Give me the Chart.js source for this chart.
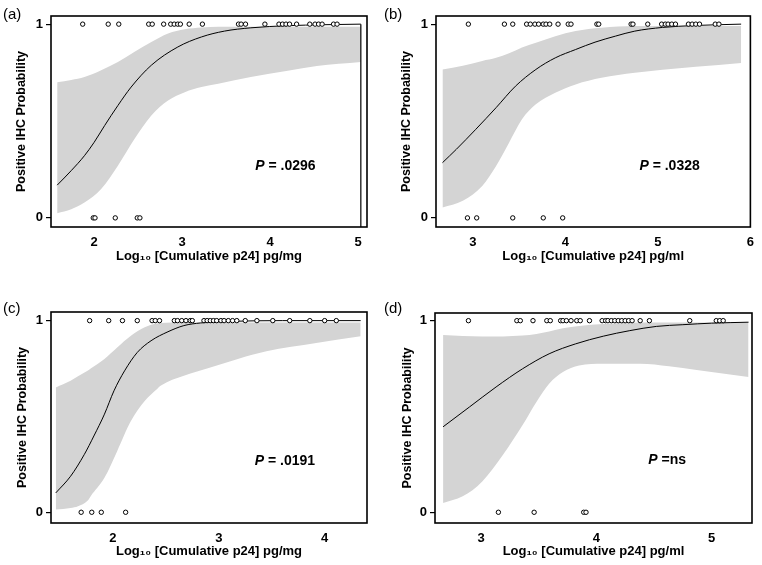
<!DOCTYPE html>
<html>
<head>
<meta charset="utf-8">
<title>Positive IHC probability vs cumulative p24</title>
<script src="https://cdn.jsdelivr.net/npm/chart.js@4.4.0/dist/chart.umd.min.js"></script>
<style>
  body { margin: 0; background: #fff; }
  #wrap { position: relative; width: 762px; height: 565px; }
  #wrap canvas { position: absolute; }
</style>
</head>
<body>
<div id="wrap">
  <canvas id="chartA" width="381" height="270" style="left:0px;top:0px"></canvas>
  <canvas id="chartB" width="381" height="270" style="left:381px;top:0px"></canvas>
  <canvas id="chartC" width="381" height="283" style="left:0px;top:282px"></canvas>
  <canvas id="chartD" width="381" height="283" style="left:381px;top:282px"></canvas>
</div>
<script>
// shared
const yTicks = [0, 1];
const yTitle = 'Positive IHC Probability';

// (a) Log10 cumulative p24, pg/mg
const aTicks = [2, 3, 4, 5];
const aHitX = [1.87, 2.16, 2.28, 2.62, 2.66, 2.79, 2.87, 2.91, 2.95, 2.98, 3.08, 3.23, 3.64, 3.67, 3.72,
               3.94, 4.10, 4.14, 4.18, 4.22, 4.30, 4.45, 4.51, 4.55, 4.59, 4.72, 4.76];
const aMissX = [1.99, 2.01, 2.24, 2.49, 2.52];
const aCurveX = [1.58, 1.74, 1.89, 2.0, 2.12, 2.27, 2.42, 2.65, 2.95, 3.22, 3.48, 3.78, 4.2, 4.6, 5.03];
const aCurveY = [0.169, 0.244, 0.321, 0.39, 0.477, 0.58, 0.675, 0.788, 0.882, 0.934, 0.964, 0.981, 0.992, 0.997, 1.0];
const aDropX = [5.03, 5.03];
const aDropY = [1.0, -0.047];
const aBandX = [1.58, 1.74, 1.89, 2.08, 2.27, 2.46, 2.65, 2.84, 3.03, 3.22, 3.41, 3.78, 4.2, 4.53, 5.03];
const aUpper = [0.70, 0.712, 0.727, 0.762, 0.805, 0.857, 0.908, 0.952, 0.974, 0.983, 0.986, 0.987, 0.987, 0.987, 0.987];
const aLower = [0.024, 0.045, 0.079, 0.149, 0.269, 0.408, 0.528, 0.606, 0.649, 0.675, 0.692, 0.727, 0.76, 0.784, 0.805];

// (b) Log10 cumulative p24, pg/ml
const bTicks = [3, 4, 5, 6];
const bHitX = [2.95, 3.34, 3.43, 3.58, 3.62, 3.67, 3.71, 3.76, 3.79, 3.83, 3.92, 4.03, 4.06, 4.34, 4.36,
               4.71, 4.73, 4.89, 5.04, 5.08, 5.11, 5.15, 5.19, 5.33, 5.37, 5.41, 5.45, 5.62, 5.66];
const bMissX = [2.94, 3.04, 3.43, 3.76, 3.97];
const bCurveX = [2.67, 2.82, 3.03, 3.25, 3.46, 3.68, 3.89, 4.11, 4.32, 4.54, 4.75, 5.05, 5.4, 5.9];
const bCurveY = [0.285, 0.354, 0.457, 0.569, 0.68, 0.766, 0.826, 0.869, 0.907, 0.938, 0.964, 0.983, 0.993, 1.0];
const bBandX = [2.67, 2.89, 3.10, 3.25, 3.39, 3.53, 3.68, 3.89, 4.11, 4.39, 4.75, 5.05, 5.41, 5.9];
const bUpper = [0.766, 0.785, 0.81, 0.826, 0.85, 0.88, 0.904, 0.938, 0.964, 0.981, 0.99, 0.99, 0.99, 0.99];
const bLower = [0.053, 0.088, 0.165, 0.268, 0.388, 0.509, 0.586, 0.646, 0.689, 0.723, 0.749, 0.765, 0.78, 0.80];

// (c) Log10 cumulative p24, pg/mg
const cTicks = [2, 3, 4];
const cHitX = [1.78, 1.96, 2.09, 2.23, 2.37, 2.40, 2.44, 2.58, 2.61, 2.65, 2.69, 2.73, 2.75, 2.86, 2.89,
               2.92, 2.95, 2.98, 3.02, 3.05, 3.09, 3.13, 3.17, 3.25, 3.36, 3.51, 3.67, 3.86, 4.0, 4.11];
const cMissX = [1.70, 1.80, 1.89, 2.12];
const cCurveX = [1.46, 1.60, 1.73, 1.82, 1.92, 2.01, 2.11, 2.23, 2.36, 2.52, 2.67, 2.83, 3.1, 3.6, 4.34];
const cCurveY = [0.101, 0.188, 0.302, 0.398, 0.512, 0.634, 0.738, 0.834, 0.895, 0.942, 0.974, 0.988, 0.996, 1.0, 1.0];
const cBandX = [1.46, 1.60, 1.67, 1.76, 1.79, 1.92, 2.04, 2.17, 2.30, 2.42, 2.45, 2.67, 2.92, 3.18, 3.45, 3.92, 4.34];
const cUpper = [0.651, 0.686, 0.71, 0.738, 0.75, 0.80, 0.86, 0.921, 0.965, 0.986, 0.988, 0.99, 0.99, 0.99, 0.99, 0.99, 0.99];
const cLower = [0.014, 0.022, 0.031, 0.06, 0.084, 0.18, 0.319, 0.476, 0.581, 0.645, 0.66, 0.712, 0.755, 0.80, 0.84, 0.883, 0.918];

// (d) Log10 cumulative p24, pg/ml
const dTicks = [3, 4, 5];
const dHitX = [2.89, 3.31, 3.34, 3.45, 3.57, 3.60, 3.69, 3.71, 3.74, 3.78, 3.83, 3.86, 3.94, 4.05, 4.08,
               4.10, 4.13, 4.16, 4.19, 4.22, 4.25, 4.28, 4.31, 4.38, 4.46, 4.81, 5.04, 5.07, 5.10];
const dMissX = [3.15, 3.46, 3.89, 3.91];
const dCurveX = [2.67, 2.90, 3.13, 3.36, 3.59, 3.82, 4.06, 4.29, 4.52, 4.75, 5.0, 5.32];
const dCurveY = [0.446, 0.55, 0.654, 0.749, 0.827, 0.879, 0.919, 0.948, 0.97, 0.979, 0.987, 0.992];
const dBandX = [2.67, 2.84, 3.01, 3.19, 3.36, 3.48, 3.59, 3.71, 3.85, 4.06, 4.38, 4.63, 4.87, 5.32];
const dUpper = [0.925, 0.92, 0.918, 0.918, 0.922, 0.93, 0.943, 0.96, 0.972, 0.982, 0.99, 0.99, 0.99, 0.99];
const dLower = [0.048, 0.083, 0.161, 0.30, 0.455, 0.576, 0.671, 0.732, 0.766, 0.775, 0.775, 0.762, 0.742, 0.706];

const FONT = '"Liberation Sans", Arial, sans-serif';
const BAND = '#d4d4d4';

function zip(xs, ys) {
  return xs.map((x, i) => ({x: x, y: ys[i]}));
}

// frame round the plot, the P annotation and the (a)/(b) label
const panelDecor = {
  id: 'panelDecor',
  afterDatasetsDraw(chart, args, opts) {
    const ctx = chart.ctx;
    const area = chart.chartArea;
    ctx.save();
    ctx.strokeStyle = '#000';
    ctx.lineWidth = 1.6;
    ctx.strokeRect(area.left, area.top, area.right - area.left, area.bottom - area.top);

    const px = chart.scales.x.getPixelForValue(opts.pAt[0]);
    const py = chart.scales.y.getPixelForValue(opts.pAt[1]);
    ctx.fillStyle = '#000';
    ctx.textBaseline = 'alphabetic';
    ctx.textAlign = 'left';
    ctx.font = 'italic bold 14px ' + FONT;
    ctx.fillText('P', px, py);
    const w = ctx.measureText('P').width;
    ctx.font = 'bold 14px ' + FONT;
    ctx.fillText(opts.pText, px + w, py);

    ctx.font = '15px ' + FONT;
    ctx.fillText(opts.label, opts.labelAt[0], opts.labelAt[1]);
    ctx.restore();
  }
};

function buildPanel(id, geo, d) {
  const canvas = document.getElementById(id);
  const H = canvas.height;
  const datasets = [
    { label: 'IHC positive', data: d.hitX.map(x => ({x: x, y: 1})), showLine: false,
      pointRadius: 2.2, pointBorderWidth: 1, pointBorderColor: '#000', pointBackgroundColor: '#fff' },
    { label: 'IHC negative', data: d.missX.map(x => ({x: x, y: 0})), showLine: false,
      pointRadius: 2.2, pointBorderWidth: 1, pointBorderColor: '#000', pointBackgroundColor: '#fff' },
    { label: 'Fitted probability', data: zip(d.curveX, d.curveY), borderColor: '#000', borderWidth: 1,
      pointRadius: 0, cubicInterpolationMode: 'monotone', fill: false }
  ];
  if (d.dropX) {
    datasets.push({ label: 'edge', data: zip(d.dropX, d.dropY), borderColor: '#000', borderWidth: 1.2,
      pointRadius: 0, fill: false });
  }
  datasets.push(
    { label: 'Upper CI', data: zip(d.bandX, d.upper), borderColor: 'rgba(0,0,0,0)', pointRadius: 0,
      cubicInterpolationMode: 'monotone', fill: '+1', backgroundColor: BAND },
    { label: 'Lower CI', data: zip(d.bandX, d.lower), borderColor: 'rgba(0,0,0,0)', pointRadius: 0,
      cubicInterpolationMode: 'monotone', fill: false }
  );

  return new Chart(canvas, {
    type: 'line',
    data: { datasets: datasets },
    options: {
      responsive: false,
      animation: false,
      devicePixelRatio: 1,
      layout: { padding: { left: 0, top: geo.top, right: canvas.width - geo.right, bottom: 0 } },
      plugins: {
        legend: { display: false },
        tooltip: { enabled: false },
        panelDecor: { pAt: d.pAt, pText: d.pText, label: d.label, labelAt: geo.labelAt }
      },
      scales: {
        x: {
          type: 'linear',
          min: d.xMin, max: d.xMax,
          afterBuildTicks: s => { s.ticks = d.ticks.map(v => ({value: v})); },
          afterFit: s => { s.height = H - geo.bottom; },
          grid: { display: false, drawTicks: false },
          border: { display: false },
          ticks: { color: '#000', padding: 8, font: { family: FONT, size: 13, weight: 'bold' } },
          title: {
            display: true, text: d.xTitle, color: '#000',
            padding: { top: 0, bottom: geo.xTitlePad },
            font: { family: FONT, size: 13, weight: 'bold' }
          }
        },
        y: {
          type: 'linear',
          min: d.yMin, max: d.yMax,
          afterBuildTicks: s => { s.ticks = yTicks.map(v => ({value: v})); },
          afterFit: s => { s.width = geo.left; },
          grid: { display: true, drawOnChartArea: false, drawTicks: true, tickLength: 5, color: '#000', lineWidth: 1.2 },
          border: { display: false },
          ticks: { color: '#000', padding: 3, font: { family: FONT, size: 13, weight: 'bold' } },
          title: {
            display: true, text: yTitle, color: '#000',
            padding: { top: geo.yTitlePad, bottom: 0 },
            font: { family: FONT, size: 12.5, weight: 'bold' }
          }
        }
      }
    },
    plugins: [panelDecor]
  });
}

buildPanel('chartA',
  { left: 51, top: 16, right: 367, bottom: 227, xTitlePad: 6, yTitlePad: 14.5, labelAt: [3, 19] },
  { ticks: aTicks, xMin: 1.51, xMax: 5.1, yMin: -0.047, yMax: 1.042,
    hitX: aHitX, missX: aMissX, curveX: aCurveX, curveY: aCurveY, dropX: aDropX, dropY: aDropY,
    bandX: aBandX, upper: aUpper, lower: aLower,
    xTitle: 'Log\u2081\u2080 [Cumulative p24] pg/mg', pAt: [3.83, 0.249], pText: ' = .0296', label: '(a)' });

buildPanel('chartB',
  { left: 55, top: 16, right: 371, bottom: 227, xTitlePad: 6, yTitlePad: 18.5, labelAt: [3, 19] },
  { ticks: bTicks, xMin: 2.6, xMax: 6.0, yMin: -0.047, yMax: 1.042,
    hitX: bHitX, missX: bMissX, curveX: bCurveX, curveY: bCurveY,
    bandX: bBandX, upper: bUpper, lower: bLower,
    xTitle: 'Log\u2081\u2080 [Cumulative p24] pg/ml', pAt: [4.80, 0.247], pText: ' = .0328', label: '(b)' });

buildPanel('chartC',
  { left: 51, top: 30, right: 367, bottom: 241, xTitlePad: 5.5, yTitlePad: 15, labelAt: [3, 31] },
  { ticks: cTicks, xMin: 1.415, xMax: 4.4, yMin: -0.056, yMax: 1.045,
    hitX: cHitX, missX: cMissX, curveX: cCurveX, curveY: cCurveY,
    bandX: cBandX, upper: cUpper, lower: cLower,
    xTitle: 'Log\u2081\u2080 [Cumulative p24] pg/mg', pAt: [3.34, 0.246], pText: ' = .0191', label: '(c)' });

buildPanel('chartD',
  { left: 54, top: 31, right: 371, bottom: 241, xTitlePad: 5.5, yTitlePad: 19.5, labelAt: [3, 31] },
  { ticks: dTicks, xMin: 2.6, xMax: 5.35, yMin: -0.056, yMax: 1.04,
    hitX: dHitX, missX: dMissX, curveX: dCurveX, curveY: dCurveY,
    bandX: dBandX, upper: dUpper, lower: dLower,
    xTitle: 'Log\u2081\u2080 [Cumulative p24] pg/ml', pAt: [4.45, 0.254], pText: ' =ns', label: '(d)' });
</script>
</body>
</html>
